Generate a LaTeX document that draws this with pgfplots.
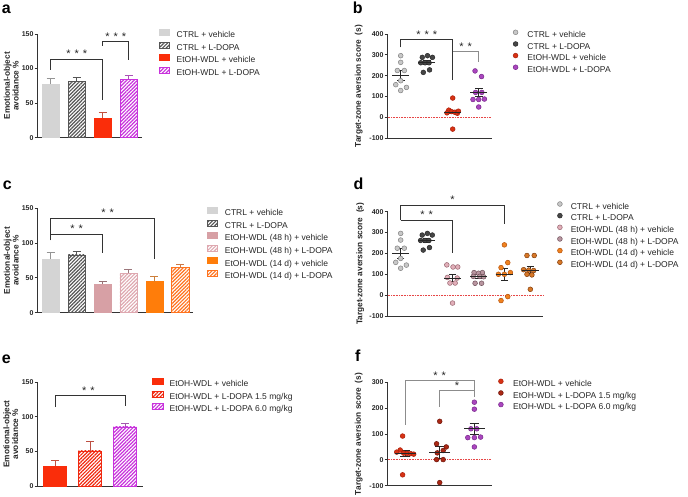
\documentclass[border=0pt]{standalone}
\usepackage{fontspec}
\setmainfont{Liberation Sans}
\usepackage{pgfplots}
\pgfplotsset{compat=1.18}
\usetikzlibrary{patterns.meta}

% bar colours
\definecolor{ctrlv}{RGB}{212,212,212}
\definecolor{ctrll}{RGB}{85,85,85}
\definecolor{etohv}{RGB}{250,45,10}
\definecolor{etohl}{RGB}{200,50,220}
\definecolor{hv}{RGB}{215,160,165}
\definecolor{hl}{RGB}{222,168,176}
\definecolor{dv}{RGB}{255,125,10}
\definecolor{dl}{RGB}{255,115,30}
\definecolor{el}{RGB}{240,40,15}
% scatter colours (fill / edge)
\definecolor{sCVf}{RGB}{200,200,200}\definecolor{sCVd}{RGB}{130,130,130}
\definecolor{sCLf}{RGB}{70,70,70}\definecolor{sCLd}{RGB}{40,40,40}
\definecolor{sEVf}{RGB}{215,50,20}\definecolor{sEVd}{RGB}{170,30,10}
\definecolor{sELf}{RGB}{170,70,190}\definecolor{sELd}{RGB}{120,40,140}
\definecolor{sHVf}{RGB}{225,175,185}\definecolor{sHVd}{RGB}{150,100,110}
\definecolor{sHLf}{RGB}{185,150,160}\definecolor{sHLd}{RGB}{110,80,90}
\definecolor{sDVf}{RGB}{240,130,30}\definecolor{sDVd}{RGB}{180,80,10}
\definecolor{sDLf}{RGB}{215,120,40}\definecolor{sDLd}{RGB}{130,60,10}
\definecolor{sF15f}{RGB}{170,40,20}\definecolor{sF15d}{RGB}{110,20,10}

\pgfplotsset{
  panel/.style={
    scale only axis, anchor=south west, clip=false,
    axis x line*=bottom, axis y line*=left,
    axis line style={draw=black!80, line width=0.9pt},
    xtick=\empty, tick align=outside, major tick length=3pt,
    every tick/.style={draw=black!80, line width=0.9pt},
    /pgf/number format/assume math mode=true,
    yticklabel style={font=\bfseries\fontsize{7}{8}\selectfont, text=black!85, inner sep=1pt},
    ylabel style={font=\bfseries\fontsize{8.3}{8.8}\selectfont, align=center, text=black!85, anchor=center},
    legend cell align=left,
    legend style={draw=none, fill=none, inner sep=0pt, outer sep=0pt, anchor=north west,
      font=\fontsize{8.5}{10}\selectfont, text=black!85, row sep=2pt,
      nodes={inner sep=0pt, text height=6.5pt, text depth=2pt}},
  },
  barpanel/.style={panel, xmin=0.5, ymin=0, ymax=150, ytick={0,50,100,150},
    legend image code/.code={\draw[##1] (0pt,0pt) rectangle (10pt,6pt);}},
  scatpanel/.style={panel, xmin=0.5, ymin=-100,
    legend image code/.code={\draw[##1] plot coordinates {(2.5pt,3pt)};}},
  bar/.style={ybar, bar shift=0pt, bar width=0.66, line width=0.6pt,
    error bars/.cd, y dir=plus, y explicit,
    error bar style={draw=#1, line width=0.9pt},
    error mark options={rotate=90, draw=#1, line width=0.9pt, mark size=4pt}},
  hatch/.style={pattern={Lines[angle=45,distance=2.5pt,line width=1.2pt]}, pattern color=#1, draw=#1},
  pts/.style 2 args={only marks, mark=*, mark size=2.4pt, mark options={fill=#1, draw=#2, line width=0.5pt}},
  means/.style 2 args={forget plot, only marks, mark=-, mark size=#1,
    mark options={draw=black!85, line width=1pt},
    error bars/.cd, y dir=both, y explicit,
    error bar style={draw=black!85, line width=0.9pt},
    error mark options={rotate=90, draw=black!85, line width=0.9pt, mark size=#2}},
  brk/.style={forget plot, draw=#1, line width=0.8pt, mark=none},
  brk/.default=black!80,
  zero/.style={forget plot, draw={rgb,255:red,230;green,70;blue,70}, line width=0.7pt, dash pattern=on 0.6pt off 1pt},
}
\tikzset{sig/.style={font=\fontsize{11}{11}\selectfont, inner sep=0pt, text=black!85, anchor=base, yshift=1.5pt},
  lett/.style={font=\bfseries\fontsize{16}{16}\selectfont, inner sep=0pt, anchor=base west}}

\begin{document}
\begin{tikzpicture}[x=1pt,y=1pt]
\useasboundingbox (0,0) rectangle (688,497);

% ---------------- a ----------------
\begin{axis}[barpanel, at={(37.7pt,359.3pt)}, width=104pt, height=103.7pt, xmax=4.5,
  ylabel={Emotional-object\\avoidance \%}, ylabel style={at={(axis description cs:-0.254,0.5)}},
  legend style={at={(1.1635,1.0453)}, /tikz/every odd column/.append style={column sep=7.4pt}}]
\addplot[fill=ctrlv, draw=ctrlv, bar=ctrlv!70!black] coordinates {(1,77) +- (0,9)};
\addlegendentry{CTRL + vehicle}
\addplot[hatch=ctrll, bar=ctrll] coordinates {(2,82) +- (0,5)};
\addlegendentry{CTRL + L-DOPA}
\addplot[fill=etohv, draw=etohv, bar=etohv!55!gray] coordinates {(3,28.5) +- (0,7.5)};
\addlegendentry{EtOH-WDL + vehicle}
\addplot[hatch=etohl, bar=etohl!60!gray] coordinates {(4,84.6) +- (0,5.8)};
\addlegendentry{EtOH-WDL + L-DOPA}
\addplot[brk] coordinates {(1,98) (1,113.6) (3,113.6) (3,54)};
\addplot[brk] coordinates {(3,133) (3,139) (4,139) (4,112.6)};
\node[sig] at (axis cs:2,113.6) {*\hskip4pt*\hskip4pt*};
\node[sig] at (axis cs:3.5,139) {*\hskip4pt*\hskip4pt*};
\end{axis}

% ---------------- b ----------------
\begin{axis}[scatpanel, at={(387.7pt,358.7pt)}, width=104pt, height=104.3pt, xmax=4.5,
  ymax=400, ytick={-100,0,100,200,300,400},
  ylabel={Target-zone aversion score~~(s)}, ylabel style={at={(axis description cs:-0.278,0.5)}},
  legend style={at={(1.2067,1.0393)}, /tikz/every odd column/.append style={column sep=9.5pt}}]
\addplot[zero] coordinates {(0.5,0) (4.5,0)};
\addplot[pts={sCVf}{sCVd}] coordinates {(1,296) (1,264) (0.87,225) (1.14,225) (1,176) (0.81,157) (1.22,144) (1,129)};
\addlegendentry{CTRL + vehicle}
\addplot[pts={sCLf}{sCLd}] coordinates {(2.03,296) (1.83,288) (2.22,288) (1.77,262) (1.94,262) (2.09,262) (2.11,228) (1.87,216)};
\addlegendentry{CTRL + L-DOPA}
\addplot[pts={sEVf}{sEVd}] coordinates {(3,93) (2.85,35) (2.95,28) (3.08,25) (3.18,20) (2.78,22) (3.22,30) (3,-56)};
\addlegendentry{EtOH-WDL + vehicle}
\addplot[pts={sELf}{sELd}] coordinates {(3.86,223) (4.11,196) (3.88,120) (4.12,120) (3.78,86) (4,86) (4.22,88) (4,50)};
\addlegendentry{EtOH-WDL + L-DOPA}
\addplot[means={8.5pt}{3.8pt}] coordinates {(1,200) +- (0,23) (2,262) +- (0,10) (3,25) +- (0,8) (4,121) +- (0,20)};
\addplot[brk] coordinates {(1,336) (1,372) (3,372) (3,181)};
\addplot[brk=black!45] coordinates {(3,316) (4,316) (4,265)};
\node[sig] at (axis cs:2,372) {*\hskip4pt*\hskip4pt*};
\node[sig] at (axis cs:3.5,316) {*\hskip4pt*};
\end{axis}

% ---------------- c ----------------
\begin{axis}[barpanel, at={(37.7pt,184.3pt)}, width=155.6pt, height=104.4pt, xmax=6.5,
  ylabel={Emotional-object\\avoidance \%}, ylabel style={at={(axis description cs:-0.170,0.5)}},
  legend style={at={(1.090,1.0096)}, /tikz/every odd column/.append style={column sep=7pt}}]
\addplot[fill=ctrlv, draw=ctrlv, bar=ctrlv!70!black] coordinates {(1,77) +- (0,9)};
\addlegendentry{CTRL + vehicle}
\addplot[hatch=ctrll, bar=ctrll] coordinates {(2,83) +- (0,4.6)};
\addlegendentry{CTRL + L-DOPA}
\addplot[fill=hv, draw=hv, bar=hv!70!black] coordinates {(3,40.8) +- (0,3.8)};
\addlegendentry{EtOH-WDL (48 h) + vehicle}
\addplot[hatch=hl, bar=hl!70!black] coordinates {(4,56.6) +- (0,5.7)};
\addlegendentry{EtOH-WDL (48 h) + L-DOPA}
\addplot[fill=dv, draw=dv, bar=dv!60!gray] coordinates {(5,44.6) +- (0,8.1)};
\addlegendentry{EtOH-WDL (14 d) + vehicle}
\addplot[hatch=dl, bar=dl!60!gray] coordinates {(6,64.7) +- (0,4.8)};
\addlegendentry{EtOH-WDL (14 d) + L-DOPA}
\addplot[brk] coordinates {(1,104) (1,135.6) (5,135.6) (5,76.7)};
\addplot[brk] coordinates {(1,113) (3,113) (3,86)};
\node[sig] at (axis cs:3.2,135.6) {*\hskip4pt*};
\node[sig] at (axis cs:2,113) {*\hskip4pt*};
\end{axis}

% ---------------- d ----------------
\begin{axis}[scatpanel, at={(387.7pt,181pt)}, width=155.6pt, height=104.3pt, xmax=6.5,
  ymax=400, ytick={-100,0,100,200,300,400},
  ylabel={Target-zone aversion score~~(s)}, ylabel style={at={(axis description cs:-0.176,0.5)}},
  legend style={at={(1.0913,1.0968)}, /tikz/every odd column/.append style={column sep=8.5pt}}]
\addplot[zero] coordinates {(0.5,0) (6.5,0)};
\addplot[pts={sCVf}{sCVd}] coordinates {(1,296) (1,264) (0.87,225) (1.14,225) (1,176) (0.81,157) (1.22,144) (1,129)};
\addlegendentry{CTRL + vehicle}
\addplot[pts={sCLf}{sCLd}] coordinates {(2.03,296) (1.83,288) (2.22,288) (1.77,262) (1.94,262) (2.09,262) (2.11,228) (1.87,216)};
\addlegendentry{CTRL + L-DOPA}
\addplot[pts={sHVf}{sHVd}] coordinates {(2.78,145) (3.02,135) (3.2,135) (2.8,85) (3.18,82) (2.9,58) (3.1,58) (3,-38)};
\addlegendentry{EtOH-WDL (48 h) + vehicle}
\addplot[pts={sHLf}{sHLd}] coordinates {(3.83,108) (4.15,108) (4,105) (3.8,90) (4.05,90) (4.2,88) (3.87,57) (4.12,57)};
\addlegendentry{EtOH-WDL (48 h) + L-DOPA}
\addplot[pts={sDVf}{sDVd}] coordinates {(5,241) (5.13,156) (4.87,132) (4.77,100) (5,100) (5.23,108) (5.13,-7) (4.87,-26)};
\addlegendentry{EtOH-WDL (14 d) + vehicle}
\addplot[pts={sDLf}{sDLd}] coordinates {(5.87,190) (6.15,190) (5.74,122) (5.94,120) (6.13,118) (5.87,100) (6.06,97) (6,28)};
\addlegendentry{EtOH-WDL (14 d) + L-DOPA}
\addplot[means={8.5pt}{3.8pt}] coordinates {(1,200) +- (0,23) (2,262) +- (0,10) (3,82) +- (0,17) (4,90) +- (0,8) (5,100) +- (0,30) (6,120) +- (0,16)};
\addplot[brk] coordinates {(1,360) (1,432) (5,432) (5,341)};
\addplot[brk] coordinates {(1,360) (3,360) (3,200)};
\node[sig] at (axis cs:3,432) {*};
\node[sig] at (axis cs:2,360) {*\hskip4pt*};
\end{axis}

% ---------------- e ----------------
\begin{axis}[barpanel, at={(37.7pt,11pt)}, width=105pt, height=103.7pt, xmax=3.5,
  ylabel={Emotional-object\\avoidance \%}, ylabel style={at={(axis description cs:-0.256,0.5)}},
  legend style={at={(1.0857,1.0386)}, /tikz/every odd column/.append style={column sep=5.7pt}},
  legend image code/.code={\draw[#1] (0pt,0pt) rectangle (11.6pt,6pt);}]
\addplot[fill=etohv, draw=etohv, bar=etohv!55!gray] coordinates {(1,29) +- (0,7.6)};
\addlegendentry{EtOH-WDL + vehicle}
\addplot[hatch=el, bar=el!55!gray] coordinates {(2,50.7) +- (0,13.3)};
\addlegendentry{EtOH-WDL + L-DOPA 1.5 mg/kg}
\addplot[hatch=etohl, bar=etohl!50!gray] coordinates {(3,85.5) +- (0,5.3)};
\addlegendentry{EtOH-WDL + L-DOPA 6.0 mg/kg}
\addplot[brk] coordinates {(1,114) (1,130.5) (3,130.5) (3,116)};
\node[sig] at (axis cs:1.95,130.5) {*\hskip4pt*};
\end{axis}

% ---------------- f ----------------
\begin{axis}[scatpanel, at={(387.7pt,11.3pt)}, width=104pt, height=103.4pt, xmax=3.5,
  ymax=300, ytick={-100,0,100,200,300},
  ylabel={Target-zone aversion score~~(s)}, ylabel style={at={(axis description cs:-0.278,0.5)}},
  legend style={at={(1.0654,1.0329)}, /tikz/every odd column/.append style={column sep=9.8pt}}]
\addplot[zero] coordinates {(0.5,0) (3.5,0)};
\addplot[pts={sEVf}{sEVd}] coordinates {(0.93,92) (0.86,38) (0.76,30) (0.96,26) (1.06,25) (1.16,24) (1.25,22) (0.93,-58)};
\addlegendentry{EtOH-WDL + vehicle}
\addplot[pts={sF15f}{sF15d}] coordinates {(2,149) (1.91,62) (2.19,50) (2.1,36) (1.93,27) (1.91,1) (2.1,1) (2,-88)};
\addlegendentry{EtOH-WDL + L-DOPA 1.5 mg/kg}
\addplot[pts={sELf}{sELd}] coordinates {(3,223) (3,196) (2.9,120) (3.07,120) (2.81,86) (3,86) (3.18,88) (3,50)};
\addlegendentry{EtOH-WDL + L-DOPA 6.0 mg/kg}
\addplot[means={10.5pt}{4.7pt}] coordinates {(1,25) +- (0,12) (2,30) +- (0,23) (3,121) +- (0,21)};
\addplot[brk=black!45] coordinates {(1,136) (1,306) (3,306) (3,245)};
\addplot[brk=black!45] coordinates {(2,206) (2,268) (3,268)};
\node[sig] at (axis cs:2,306) {*\hskip4pt*};
\node[sig] at (axis cs:2.5,268) {*};
\end{axis}

% panel letters
\node[lett] at (1.7,483.7) {a};
\node[lett] at (352.7,483.7) {b};
\node[lett] at (2.7,307.7) {c};
\node[lett] at (353.3,307.7) {d};
\node[lett] at (1.7,133.7) {e};
\node[lett] at (355,135.3) {f};
\end{tikzpicture}
\end{document}
